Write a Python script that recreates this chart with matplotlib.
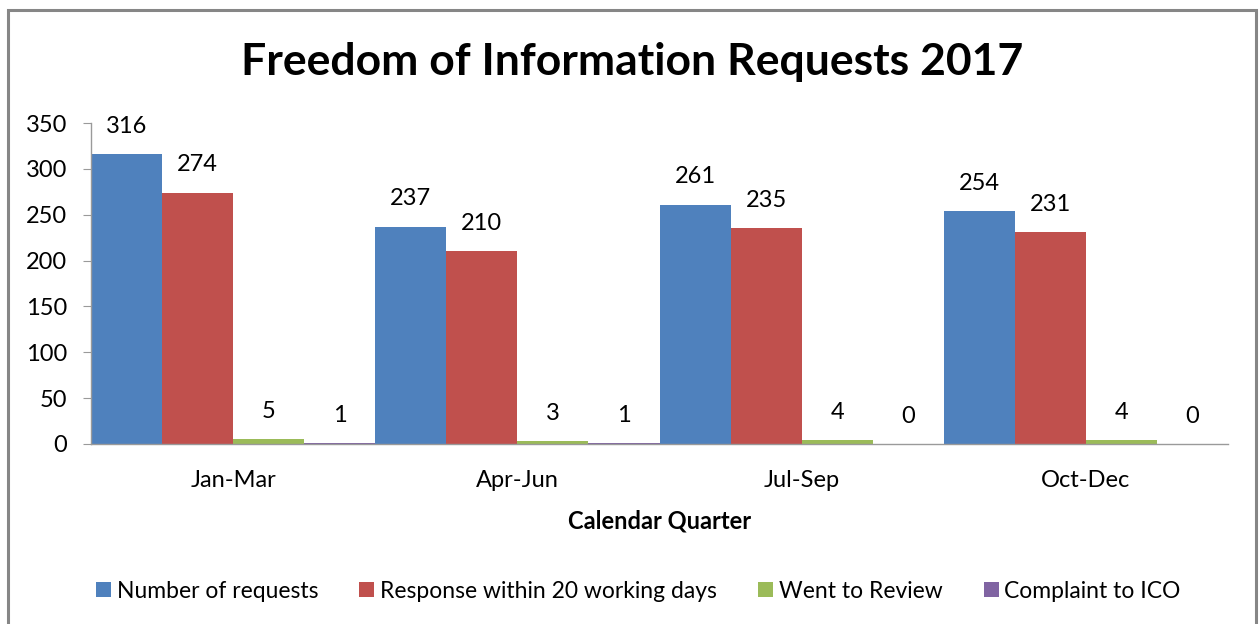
import matplotlib.pyplot as plt
import numpy as np
from matplotlib.patches import Rectangle

plt.rcParams['font.family'] = ['Lato', 'DejaVu Sans']

quarters = ["Jan-Mar", "Apr-Jun", "Jul-Sep", "Oct-Dec"]
series_names = ["Number of requests", "Response within 20 working days",
                "Went to Review", "Complaint to ICO"]
requests = [316, 237, 261, 254]
responses = [274, 210, 235, 231]
reviews = [5, 3, 4, 4]
complaints = [1, 1, 0, 0]
colors = ["#4F81BD", "#C0504D", "#9BBB59", "#8064A2"]

W, H = 1259, 624
fig = plt.figure(figsize=(W / 100, H / 100), dpi=100)

# chart area border like excel
fig.patches.append(Rectangle((8 / W, -0.05), (1256 - 8) / W, (H - 10) / H + 0.05,
                             transform=fig.transFigure, fill=False,
                             edgecolor="#868686", linewidth=2.2))

ax = fig.add_axes([91 / W, (H - 444) / H, (1228 - 91) / W, (444 - 123) / H])

x = np.arange(len(quarters))
width = 0.25
all_series = [requests, responses, reviews, complaints]
for i, vals in enumerate(all_series):
    offs = (i - 1.5) * width
    bars = ax.bar(x + offs, vals, width, color=colors[i], label=series_names[i],
                  linewidth=0)
    for b, v in zip(bars, vals):
        ax.annotate(str(v), (b.get_x() + b.get_width() / 2, v),
                    xytext=(0, 20), textcoords="offset points",
                    ha="center", va="center", fontsize=17)

ax.set_xlim(-0.5, 3.5)
ax.set_ylim(0, 350)
ax.set_yticks(np.arange(0, 351, 50))
ax.set_xticks(x)
ax.set_xticklabels(quarters)

for s in ["top", "right"]:
    ax.spines[s].set_visible(False)
for s in ["left", "bottom"]:
    ax.spines[s].set_color("#9a9a9a")
    ax.spines[s].set_linewidth(1.0)
ax.tick_params(axis="y", length=6, color="#9a9a9a", labelsize=17, pad=11)
ax.tick_params(axis="x", length=0, labelsize=17, pad=19)

ax.set_xlabel("Calendar Quarter", fontsize=17, fontweight="bold", labelpad=13)

fig.text(0.502, (H - 62) / H, "Freedom of Information Requests 2017",
         ha="center", va="center", fontsize=32, fontweight="bold")

handles, labels = ax.get_legend_handles_labels()
fig.legend(handles, labels, loc="center", bbox_to_anchor=(0.507, (H - 591) / H),
           ncol=4, frameon=False, fontsize=16.5, handlelength=0.65, handleheight=0.65,
           handletextpad=0.25, columnspacing=1.8)

plt.savefig("out.png", dpi=100)
